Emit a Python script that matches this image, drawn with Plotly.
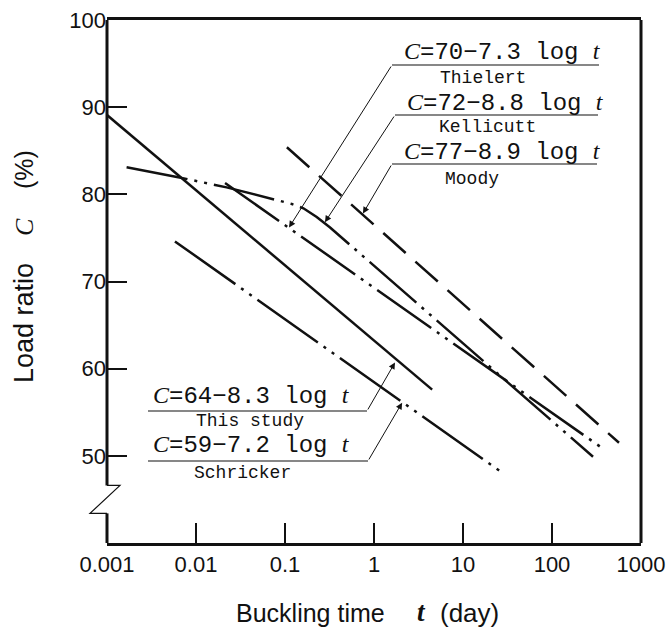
import numpy as np
import plotly.graph_objects as go

# ---- data (t in days, C in %) ----
this_study_t = [0.001, 4.5]
this_study_c = [89.1, 57.6]

schricker_t = [0.0058, 28.1]
schricker_c = [74.6, 48.0]

thielert_t = [0.0212, 365]
thielert_c = [81.3, 50.9]

kellicutt_t = [0.00166, 0.0038, 0.0061, 0.0221, 0.057, 0.119, 0.161, 0.227, 0.321, 289]
kellicutt_c = [83.1, 82.4, 82.0, 80.8, 79.7, 78.9, 78.4, 77.4, 76.2, 49.9]

moody_t = [0.105, 566]
moody_c = [85.4, 51.5]

x_tickvals = [0.001, 0.01, 0.1, 1, 10, 100, 1000]
x_ticktext = ["0.001", "0.01", "0.1", "1", "10", "100", "1000"]
y_tickvals = [50, 60, 70, 80, 90, 100]
y_ticktext = ["50", "60", "70", "80", "90", "100"]

# labels: equation, author, arrow tip (t, C)
label_eq = ["70−7.3", "72−8.8", "77−8.9", "64−8.3", "59−7.2"]
label_name = ["Thielert", "Kellicutt", "Moody", "This study", "Schricker"]
tip_t = [0.111, 0.281, 0.752, 1.72, 2.07]
tip_c = [76.2, 76.8, 77.8, 60.7, 56.1]

# ---- geometry helpers (pixel -> paper) ----
L, R, T, B = 107, 28, 20, 91
W, H = 669, 634
PW, PH = W - L - R, H - T - B


def xp(px):
    return (px - L) / PW


def yp(py):
    return (H - B - py) / PH


BLACK = "#111111"
MONO = "Liberation Mono"
SANS = "Liberation Sans"
SERIF_I = "<i><span style=\"font-family:Liberation Serif\">%s</span></i>"

fig = go.Figure()

fig.add_trace(go.Scatter(x=this_study_t, y=this_study_c, mode="lines",
                         line=dict(color=BLACK, width=2.5)))
fig.add_trace(go.Scatter(x=schricker_t, y=schricker_c, mode="lines",
                         line=dict(color=BLACK, width=2.5,
                                   dash="74px,7px,3px,7px,3px,7px")))
fig.add_trace(go.Scatter(x=thielert_t, y=thielert_c, mode="lines",
                         line=dict(color=BLACK, width=2.5,
                                   dash="66px,7px,3px,7px,3px,7px")))
fig.add_trace(go.Scatter(x=kellicutt_t, y=kellicutt_c, mode="lines",
                         line=dict(color=BLACK, width=2.5,
                                   dash="62px,7px,3px,7px,3px,7px")))
fig.add_trace(go.Scatter(x=moody_t, y=moody_c, mode="lines",
                         line=dict(color=BLACK, width=2.5, dash="30px,13px")))

# ---- label layout (pixel positions) ----
eq_pos = [(502, 52), (505, 103), (502, 152), (251, 396), (251, 445)]
name_pos = [(483, 78), (487, 127), (472, 179), (250, 421), (242, 473)]
under = [(392, 599, 65), (395, 598, 115), (392, 597, 164), (148, 367, 411), (148, 368, 461)]
tail = [(392, 65), (395, 115), (392, 164), (367, 411), (368, 461)]


def txt(px, py, text, family, size, angle=0):
    return dict(x=xp(px), y=yp(py), xref="paper", yref="paper", showarrow=False,
                xanchor="center", yanchor="middle", text=text, textangle=angle,
                font=dict(family=family, size=size, color=BLACK))


annotations = []
shapes = []
for i in range(len(label_eq)):
    ex, ey = eq_pos[i]
    annotations.append(txt(ex, ey, (SERIF_I % "C") + "=" + label_eq[i] + " log " + (SERIF_I % "t"),
                           MONO, 24))
    nx, ny = name_pos[i]
    annotations.append(txt(nx, ny, label_name[i], MONO, 18))
    x0, x1, uy = under[i]
    shapes.append(dict(type="line", xref="paper", yref="paper",
                       x0=xp(x0), x1=xp(x1), y0=yp(uy), y1=yp(uy),
                       line=dict(color=BLACK, width=1.2)))

# arrows (tip in data coordinates, tail as pixel offset)
for i in range(len(tip_t)):
    tpx = L + (np.log10(tip_t[i]) + 3) / 6 * PW
    tpy = T + (100 - tip_c[i]) / 60 * PH
    tx, ty = tail[i]
    annotations.append(dict(
        x=np.log10(tip_t[i]), y=tip_c[i], xref="x", yref="y",
        text="", showarrow=True, arrowhead=2, arrowsize=1.3, arrowwidth=1,
        arrowcolor=BLACK, ax=tx - tpx, ay=ty - tpy, standoff=0, startstandoff=0))

# axis titles
annotations.append(txt(310, 613, "Buckling time", SANS, 25))
annotations.append(txt(421, 612, SERIF_I % "<b>t</b>", SANS, 27))
annotations.append(txt(469, 613, "(day)", SANS, 26))
annotations.append(txt(24, 323, "Load ratio", SANS, 27, -90))
annotations.append(txt(24, 227, SERIF_I % "C", SANS, 26, -90))
annotations.append(txt(24, 170, "(%)", SANS, 25, -90))

# left axis with break, right border
brk_hi, brk_lo = 46.6, 43.4
shapes.append(dict(type="line", xref="paper", yref="y", x0=0, x1=0, y0=brk_hi, y1=100,
                   line=dict(color=BLACK, width=3)))
shapes.append(dict(type="line", xref="paper", yref="y", x0=0, x1=0, y0=40, y1=brk_lo,
                   line=dict(color=BLACK, width=3)))
shapes.append(dict(type="path", xref="paper", yref="y",
                   path="M 0,%s L %s,%s L %s,%s L 0,%s" % (brk_hi, 13 / PW, brk_hi,
                                                         -17 / PW, brk_lo, brk_lo),
                   line=dict(color=BLACK, width=1.2)))
shapes.append(dict(type="line", xref="paper", yref="paper", x0=1, x1=1, y0=0, y1=1,
                   line=dict(color=BLACK, width=3)))

fig.update_layout(
    width=W, height=H, autosize=False,
    margin=dict(l=L, r=R, t=T, b=B),
    paper_bgcolor="white", plot_bgcolor="white",
    showlegend=False,
    font=dict(family=SANS, color=BLACK),
    annotations=annotations,
    shapes=shapes,
    xaxis=dict(type="log", range=[-3, 3], tickvals=x_tickvals, ticktext=x_ticktext,
               ticks="inside", ticklen=20, tickwidth=1.5, tickcolor=BLACK,
               showline=True, linewidth=3, linecolor=BLACK, mirror=True,
               showgrid=False, zeroline=False, automargin=False,
               tickfont=dict(family=SANS, size=22, color=BLACK)),
    yaxis=dict(range=[40, 100], tickvals=y_tickvals, ticktext=y_ticktext,
               ticks="inside", ticklen=20, tickwidth=1.5, tickcolor=BLACK,
               showline=False, showgrid=False, zeroline=False, automargin=False,
               tickfont=dict(family=SANS, size=22, color=BLACK)),
)

fig.write_html("out.html", config={"responsive": False})
